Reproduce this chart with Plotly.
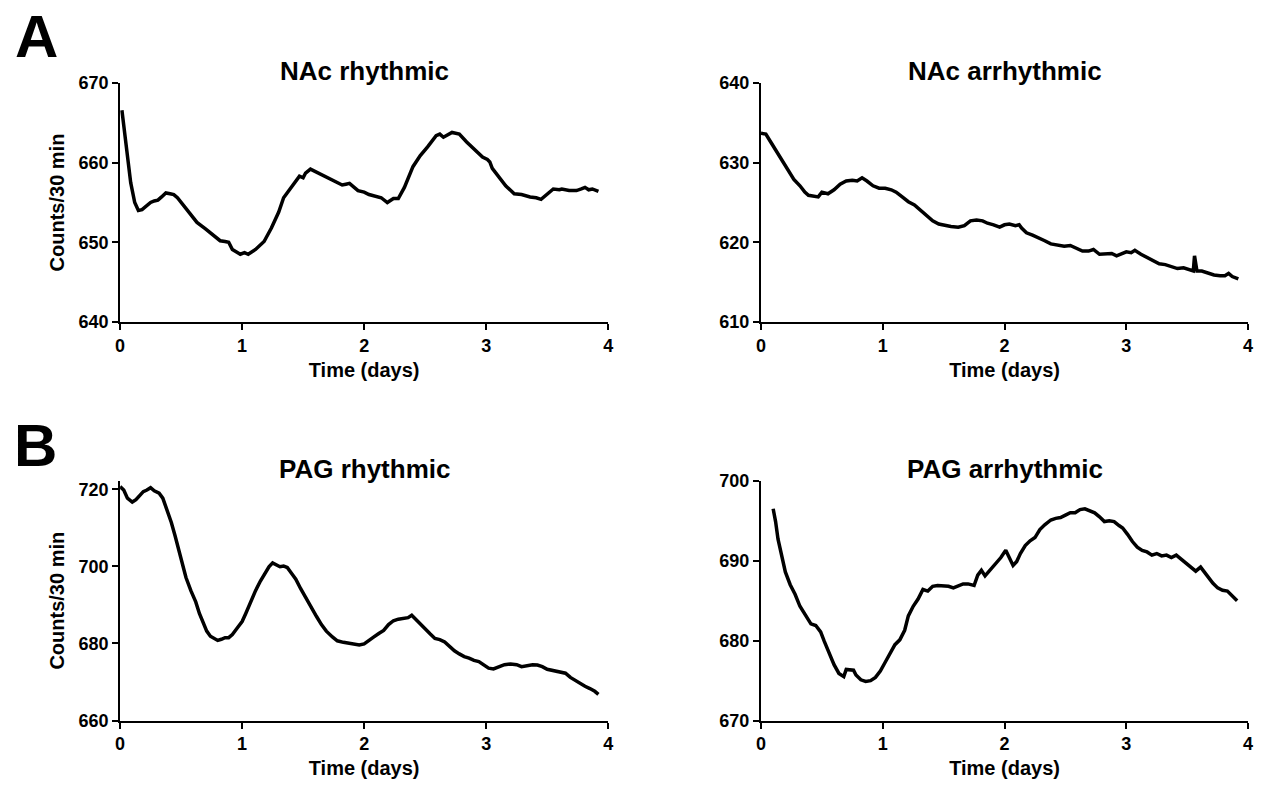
import plotly.graph_objects as go

# ---------------- data ----------------
nac_r_t = [0.015, 0.055, 0.087, 0.12, 0.15, 0.18, 0.22, 0.25, 0.28, 0.31, 0.34, 0.375, 0.41, 0.44, 0.47, 0.5,
           0.54, 0.57, 0.63, 0.7, 0.76, 0.82, 0.86, 0.89, 0.92, 0.96, 0.985, 1.02, 1.05, 1.11, 1.18, 1.24, 1.3,
           1.34, 1.4, 1.47, 1.5, 1.52, 1.56, 1.6, 1.63, 1.69, 1.74, 1.79, 1.82, 1.85, 1.88, 1.95, 2.0, 2.04,
           2.09, 2.14, 2.19, 2.24, 2.28, 2.33, 2.4, 2.46, 2.52, 2.59, 2.62, 2.65, 2.72, 2.78, 2.84, 2.91, 2.97,
           3.01, 3.03, 3.05, 3.1, 3.16, 3.23, 3.29, 3.36, 3.41, 3.45, 3.5, 3.55, 3.6, 3.62, 3.68, 3.74, 3.78,
           3.81, 3.84, 3.87, 3.92]
nac_r_v = [666.6, 662.0, 657.5, 655.0, 654.0, 654.1, 654.7, 655.0, 655.2, 655.3, 655.7, 656.2, 656.1, 656.0,
           655.6, 655.0, 654.2, 653.6, 652.5, 651.7, 650.9, 650.2, 650.1, 650.0, 649.1, 648.8, 648.5, 648.7, 648.5,
           649.1, 650.1, 651.8, 653.8, 655.6, 656.9, 658.3, 658.1, 658.7, 659.2, 658.9, 658.7, 658.2, 657.9, 657.5,
           657.2, 657.3, 657.4, 656.5, 656.3, 656.0, 655.8, 655.6, 655.0, 655.5, 655.5, 656.9, 659.5, 660.9, 662.0,
           663.4, 663.6, 663.2, 663.8, 663.6, 662.6, 661.5, 660.7, 660.4, 660.1, 659.3, 658.3, 657.1, 656.1, 656.0,
           655.7, 655.6, 655.4, 656.0, 656.7, 656.6, 656.7, 656.5, 656.5, 656.7, 656.9, 656.6, 656.7, 656.4]

nac_a_t = [0.0, 0.04, 0.08, 0.13, 0.18, 0.23, 0.27, 0.32, 0.36, 0.39, 0.44, 0.47, 0.5, 0.55, 0.6, 0.65, 0.7,
           0.75, 0.79, 0.83, 0.87, 0.92, 0.97, 1.02, 1.07, 1.11, 1.16, 1.21, 1.26, 1.31, 1.36, 1.41, 1.46, 1.51,
           1.56, 1.62, 1.67, 1.72, 1.77, 1.82, 1.86, 1.91, 1.96, 2.0, 2.04, 2.09, 2.12, 2.14, 2.18, 2.23, 2.28,
           2.33, 2.38, 2.44, 2.49, 2.54, 2.59, 2.64, 2.69, 2.73, 2.78, 2.83, 2.88, 2.92, 2.96, 3.0, 3.04, 3.07,
           3.12, 3.17, 3.22, 3.27, 3.32, 3.37, 3.42, 3.47, 3.52, 3.55, 3.56, 3.58, 3.62, 3.67, 3.72, 3.77, 3.81,
           3.84, 3.87, 3.92]
nac_a_v = [633.7, 633.6, 632.6, 631.4, 630.2, 628.9, 627.9, 627.1, 626.3, 625.9, 625.8, 625.7, 626.3, 626.1,
           626.6, 627.3, 627.7, 627.8, 627.7, 628.1, 627.7, 627.1, 626.8, 626.8, 626.6, 626.3, 625.7, 625.1,
           624.7, 624.0, 623.4, 622.7, 622.3, 622.1, 622.0, 621.9, 622.1, 622.7, 622.8, 622.7, 622.4, 622.2,
           621.9, 622.2, 622.3, 622.1, 622.2, 621.8, 621.2, 620.9, 620.6, 620.2, 619.8, 619.6, 619.5, 619.6,
           619.2, 618.9, 618.9, 619.1, 618.5, 618.5, 618.6, 618.3, 618.6, 618.8, 618.7, 619.0, 618.5, 618.1,
           617.7, 617.3, 617.2, 617.0, 616.7, 616.8, 616.5, 616.4, 618.3, 616.4, 616.4, 616.1, 615.9, 615.8,
           615.8, 616.1, 615.7, 615.4]

pag_r_t = [0.0, 0.03, 0.06, 0.1, 0.13, 0.16, 0.19, 0.22, 0.25, 0.28, 0.32, 0.35, 0.38, 0.42, 0.45, 0.48, 0.51,
           0.54, 0.58, 0.62, 0.65, 0.68, 0.71, 0.74, 0.77, 0.8, 0.83, 0.86, 0.89, 0.92, 0.96, 1.0, 1.03, 1.07,
           1.11, 1.15, 1.19, 1.22, 1.25, 1.28, 1.31, 1.34, 1.37, 1.4, 1.44, 1.48, 1.53, 1.57, 1.61, 1.65, 1.69,
           1.74, 1.78, 1.83, 1.87, 1.92, 1.96, 2.0, 2.04, 2.08, 2.12, 2.16, 2.2, 2.24, 2.28, 2.32, 2.36, 2.39,
           2.42, 2.46, 2.5, 2.54, 2.58, 2.62, 2.66, 2.7, 2.74, 2.78, 2.82, 2.86, 2.9, 2.94, 2.98, 3.02, 3.06,
           3.1, 3.15, 3.2, 3.25, 3.29, 3.33, 3.38, 3.42, 3.46, 3.5, 3.55, 3.6, 3.65, 3.69, 3.73, 3.77, 3.81,
           3.85, 3.89, 3.92]
pag_r_v = [720.7, 719.8, 717.7, 716.7, 717.3, 718.4, 719.4, 719.8, 720.4, 719.6, 719.0, 717.7, 715.2, 711.4,
           708.0, 704.2, 700.9, 697.1, 693.7, 690.8, 687.8, 685.3, 683.2, 681.9, 681.3, 680.8, 681.1, 681.5,
           681.5, 682.3, 684.0, 685.7, 687.8, 690.8, 693.7, 696.2, 698.4, 699.9, 700.9, 700.3, 699.9, 700.1,
           699.7, 698.4, 696.7, 694.2, 691.6, 689.2, 687.0, 684.9, 683.2, 681.7, 680.7, 680.3, 680.1, 679.9,
           679.6, 679.9, 680.9, 681.7, 682.6, 683.4, 684.9, 685.9, 686.3, 686.5, 686.7, 687.3, 686.3, 685.2,
           683.8, 682.5, 681.3, 681.0, 680.4, 679.1, 678.1, 677.3, 676.6, 676.2, 675.6, 675.3, 674.5, 673.6,
           673.4, 674.0, 674.5, 674.7, 674.5, 674.0, 674.3, 674.5, 674.4, 674.0, 673.3, 672.9, 672.5, 672.3,
           671.2, 670.4, 669.5, 668.9, 668.3, 667.6, 666.8]

pag_a_t = [0.1, 0.12, 0.14, 0.17, 0.2, 0.24, 0.28, 0.32, 0.37, 0.41, 0.45, 0.49, 0.52, 0.56, 0.6, 0.64, 0.68,
           0.7, 0.73, 0.76, 0.78, 0.82, 0.86, 0.9, 0.94, 0.98, 1.02, 1.06, 1.1, 1.14, 1.18, 1.21, 1.25, 1.29,
           1.33, 1.37, 1.41, 1.45, 1.5, 1.54, 1.58, 1.62, 1.66, 1.7, 1.75, 1.78, 1.81, 1.84, 1.88, 1.93, 1.97,
           2.01, 2.04, 2.07, 2.1, 2.13, 2.17, 2.21, 2.25, 2.29, 2.33, 2.38, 2.42, 2.46, 2.5, 2.54, 2.58, 2.62,
           2.66, 2.7, 2.74, 2.78, 2.82, 2.86, 2.9, 2.94, 2.97, 3.01, 3.05, 3.09, 3.13, 3.17, 3.21, 3.25, 3.29,
           3.33, 3.37, 3.41, 3.45, 3.49, 3.53, 3.57, 3.61, 3.64, 3.67, 3.71, 3.75, 3.79, 3.83, 3.87, 3.91]
pag_a_v = [696.5, 694.9, 692.7, 690.7, 688.6, 687.0, 685.8, 684.3, 683.1, 682.1, 681.9, 681.1, 679.9, 678.5,
           677.0, 675.9, 675.5, 676.4, 676.3, 676.3, 675.7, 675.1, 674.9, 675.0, 675.4, 676.2, 677.3, 678.5,
           679.5, 680.1, 681.3, 683.1, 684.3, 685.2, 686.4, 686.2, 686.8, 686.9, 686.9, 686.8, 686.6, 686.8,
           687.1, 687.1, 686.9, 688.2, 688.8, 688.1, 688.8, 689.8, 690.4, 691.3, 690.4, 689.4, 689.9, 690.9,
           691.9, 692.5, 692.9, 693.9, 694.5, 695.1, 695.3, 695.4, 695.7, 696.0, 696.0, 696.4, 696.5, 696.3,
           696.0, 695.5, 694.9, 695.0, 694.9, 694.4, 694.1, 693.3, 692.4, 691.7, 691.3, 691.1, 690.7, 690.9,
           690.6, 690.7, 690.4, 690.7, 690.2, 689.8, 689.2, 688.7, 689.2, 688.6, 687.9, 687.2, 686.6, 686.3,
           686.2, 685.6, 685.0]

titles = ["NAc rhythmic", "NAc arrhythmic", "PAG rhythmic", "PAG arrhythmic"]
y_ranges = [[640, 670], [610, 640], [660, 722.2], [670, 700]]
y_ticks = [[640, 650, 660, 670], [610, 620, 630, 640], [660, 680, 700, 720], [670, 680, 690, 700]]
x_ticks = [0, 1, 2, 3, 4]

series = [(nac_r_t, nac_r_v), (nac_a_t, nac_a_v), (pag_r_t, pag_r_v), (pag_a_t, pag_a_v)]

W, H = 1265, 792
xdoms = [[116 / W, 608 / W], [762 / W, 1253 / W]]
ydoms = [[1 - 320 / H, 1 - 75 / H], [1 - 729 / H, 1 - 483 / H]]

FONT = "Liberation Sans, Arial, sans-serif"

fig = go.Figure()
layout = dict(width=W, height=H, margin=dict(l=0, r=0, t=0, b=0),
              paper_bgcolor="white", plot_bgcolor="white", showlegend=False)

annotations = []
for i, (t, v) in enumerate(series):
    row, col = divmod(i, 2)
    xa = "x" if i == 0 else f"x{i+1}"
    ya = "y" if i == 0 else f"y{i+1}"
    fig.add_trace(go.Scatter(x=t, y=v, mode="lines", xaxis=xa, yaxis=ya,
                             line=dict(color="black", width=3.5), hoverinfo="skip"))
    axis_common = dict(showline=True, linecolor="black", linewidth=2, ticks="outside",
                       ticklen=6, tickwidth=2, tickcolor="black", showgrid=False, zeroline=False,
                       tickfont=dict(family=FONT, size=18, color="black"))
    layout["xaxis" if i == 0 else f"xaxis{i+1}"] = dict(
        domain=xdoms[col], range=[0, 4], tickvals=x_ticks,
        ticktext=[f"<b>{x}</b>" for x in x_ticks], anchor=ya,
        title=dict(text="<b>Time (days)</b>", standoff=8,
                   font=dict(family=FONT, size=20, color="black")),
        **axis_common)
    ydict = dict(domain=ydoms[row], range=y_ranges[i], tickvals=y_ticks[i],
                 ticktext=[f"<b>{y}</b>" for y in y_ticks[i]], anchor=xa, **axis_common)
    if col == 0:
        ydict["title"] = dict(text="<b>Counts/30 min</b>", standoff=8,
                              font=dict(family=FONT, size=20, color="black"))
    layout["yaxis" if i == 0 else f"yaxis{i+1}"] = ydict
    annotations.append(dict(text=f"<b>{titles[i]}</b>", xref="paper", yref="paper",
                            x=(xdoms[col][0] + xdoms[col][1]) / 2,
                            y=ydoms[row][1] + 12 / H, xanchor="center", yanchor="middle",
                            showarrow=False,
                            font=dict(family=FONT, size=26, color="black")))

annotations.append(dict(text="<b>A</b>", xref="paper", yref="paper", x=32 / W, y=1 - 27 / H,
                        xanchor="center", yanchor="middle", showarrow=False,
                        font=dict(family=FONT, size=60, color="black")))
annotations.append(dict(text="<b>B</b>", xref="paper", yref="paper", x=31 / W, y=1 - 447 / H,
                        xanchor="center", yanchor="middle", showarrow=False,
                        font=dict(family=FONT, size=60, color="black")))
layout["annotations"] = annotations
fig.update_layout(**layout)
fig.write_html("out.html", config={"displayModeBar": False},
               post_script="document.body.style.margin='0';document.body.style.overflow='hidden';")
